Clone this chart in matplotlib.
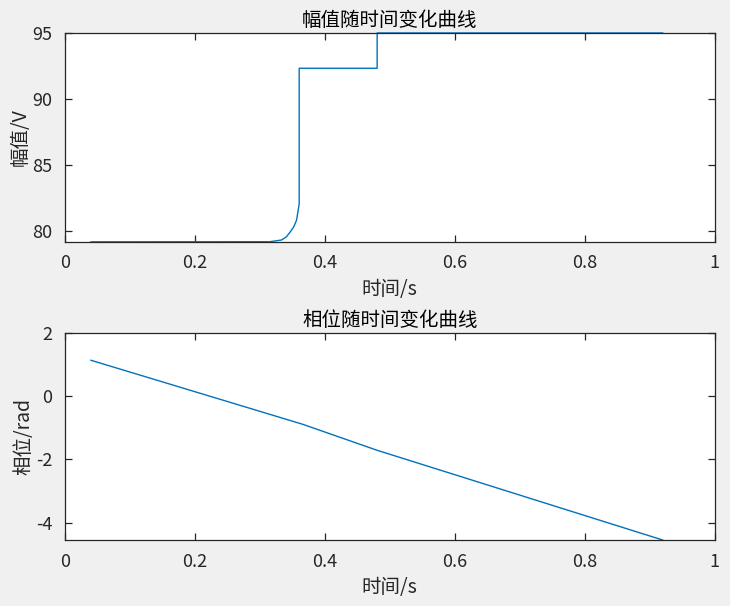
import matplotlib
matplotlib.use("Agg")
import matplotlib.pyplot as plt

plt.rcParams['font.family'] = ['Noto Sans CJK SC', 'DejaVu Sans']
plt.rcParams['axes.unicode_minus'] = False

# Amplitude data
amp_t = [0.04, 0.3154, 0.3334, 0.341, 0.347, 0.3523, 0.3565, 0.3605, 0.3605, 0.4805, 0.4805, 0.92]
amp_v = [79.20, 79.21, 79.34, 79.59, 79.97, 80.35, 80.85, 82.06, 92.33, 92.33, 95.0, 95.0]

# Phase data
ph_t = [0.04, 0.366, 0.4805, 0.92]
ph_v = [1.13, -0.89, -1.71, -4.54]

x_ticks = [0, 0.2, 0.4, 0.6, 0.8, 1]
x_labels = ["0", "0.2", "0.4", "0.6", "0.8", "1"]
amp_yticks = [80, 85, 90, 95]
ph_yticks = [-4, -2, 0, 2]

line_color = "#0072BD"
axis_color = "#262626"
bg = "#f0f0f0"
tick_fs = 13
lab_fs = 14

fig = plt.figure(figsize=(7.30, 6.06), dpi=100, facecolor=bg)
ax1 = fig.add_axes([0.089, 0.6007, 0.890, 0.3449])
ax2 = fig.add_axes([0.089, 0.1089, 0.890, 0.3421])

def style(ax):
    ax.set_facecolor("white")
    for s in ax.spines.values():
        s.set_color(axis_color)
        s.set_linewidth(0.9)
    ax.tick_params(direction="in", top=True, right=True, colors=axis_color,
                   labelsize=tick_fs, length=5, width=0.9, labelcolor=axis_color)
    ax.tick_params(axis="x", pad=9)
    ax.tick_params(axis="y", pad=9)
    ax.set_xlim(0, 1)
    ax.set_xticks(x_ticks)
    ax.set_xticklabels(x_labels)

ax1.plot(amp_t, amp_v, color=line_color, lw=1.0, clip_on=False)
style(ax1)
ax1.set_ylim(79.19, 95)
ax1.set_yticks(amp_yticks)
ax1.set_title("幅值随时间变化曲线", fontsize=lab_fs, color="black", pad=5)
ax1.set_xlabel("时间/s", fontsize=lab_fs, color=axis_color, labelpad=5)
ax1.set_ylabel("幅值/V", fontsize=lab_fs, color=axis_color, labelpad=1)

ax2.plot(ph_t, ph_v, color=line_color, lw=1.0, clip_on=False)
style(ax2)
ax2.set_ylim(-4.54, 2)
ax2.set_yticks(ph_yticks)
ax2.set_title("相位随时间变化曲线", fontsize=lab_fs, color="black", pad=5)
ax2.set_xlabel("时间/s", fontsize=lab_fs, color=axis_color, labelpad=5)
ax2.set_ylabel("相位/rad", fontsize=lab_fs, color=axis_color, labelpad=1)

fig.savefig("out.png", dpi=100, facecolor=bg)
